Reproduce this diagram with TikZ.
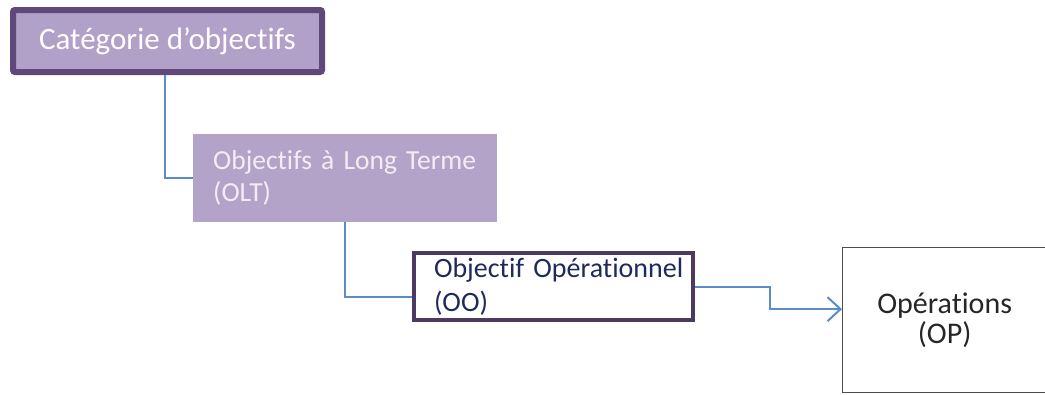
\documentclass[tikz,border=0pt]{standalone}
\usepackage{fontspec}
\setmainfont{Carlito}[Ligatures={NoCommon, NoRare}]
\usepackage{tikz}
\usetikzlibrary{arrows.meta}
\definecolor{catfill}{HTML}{B1A0C7}
\definecolor{catborder}{HTML}{5F497A}
\definecolor{oltfill}{HTML}{B4A3C9}
\definecolor{ooborder}{HTML}{4B3B63}
\definecolor{ootext}{HTML}{1F2A5C}
\definecolor{linkblue}{HTML}{5B8BC9}
\tikzstyle{categorie} = [rectangle, rounded corners=2pt, minimum width=309pt, minimum height=62pt, inner sep=0pt, text centered, draw=catborder, line width=6pt, fill=catfill, text=white, font=\fontsize{31}{36}\selectfont]
\tikzstyle{longterme} = [rectangle, minimum width=304pt, minimum height=88pt, text width=264pt, inner xsep=20pt, inner ysep=0pt, align=left, fill=oltfill, text=white!92!violet, font=\fontsize{27.5}{32}\selectfont]
\tikzstyle{operationnel} = [rectangle, minimum width=279pt, minimum height=67pt, text width=239pt, inner xsep=20pt, inner ysep=0pt, align=left, draw=ooborder, line width=4pt, fill=white, text=ootext, font=\fontsize{28}{34}\selectfont]
\tikzstyle{operations} = [rectangle, minimum width=204pt, minimum height=145pt, inner sep=0pt, align=center, draw=black!70, line width=1.3pt, text=black!85, font=\fontsize{30}{30}\selectfont]
\tikzstyle{link} = [draw=linkblue, line width=2pt]
\tikzstyle{arrow} = [link, -{Straight Barb[length=13pt, width=24pt, line width=2pt]}]

\begin{document}
\begin{tikzpicture}[x=1pt, y=-1pt]
    \useasboundingbox (0,0) rectangle (1045,394);

    \node[categorie, anchor=north west]    (cat) at (10,7)    {Catégorie d’objectifs};
    \node[longterme, anchor=north west]    (olt) at (193,134) {Objectifs à Long Terme\\(OLT)};
    \node[operationnel, anchor=north west] (oo)  at (412,251) {\mbox{Objectif Opérationnel}\\(OO)};
    \node[operations, anchor=north west]   (op)  at (842,247) {Opérations\\(OP)};

    \draw[link]  ([xshift=155pt]cat.south west) |- (olt.west);
    \draw[link]  ([xshift=152pt]olt.south west) |- ([yshift=-10pt]oo.west);
    \draw[arrow] (oo.east) -- ++(75,0) |- ([yshift=11pt]op.west);
\end{tikzpicture}
\end{document}
